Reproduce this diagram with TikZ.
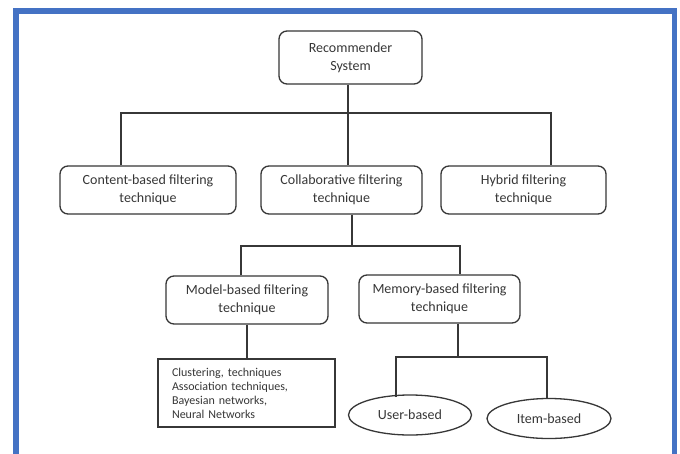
\documentclass[tikz,border=0pt]{standalone}
\usepackage{fontspec}
\setmainfont{Carlito}
\usetikzlibrary{shapes.geometric}
\definecolor{frameblue}{RGB}{68,114,196}
\definecolor{inkgray}{RGB}{55,55,55}

\begin{document}
\begin{tikzpicture}[x=1pt,y=-1pt,
    box/.style={draw=inkgray,line width=1.3pt,rounded corners=8pt,align=center,
        font=\fontsize{14}{18}\selectfont,text=inkgray,inner sep=0pt,minimum height=48pt},
    listbox/.style={draw=inkgray,line width=1.3pt,align=left,text width=149pt,
        font=\fontsize{12}{14}\selectfont,text=inkgray,inner xsep=14pt,inner ysep=0pt,minimum height=68pt},
    oval/.style={draw=inkgray,line width=1.3pt,ellipse,inner sep=0pt,
        font=\fontsize{14}{18}\selectfont,text=inkgray,minimum height=40pt},
    link/.style={draw=inkgray,line width=1.1pt}]
            \useasboundingbox (0,0) rectangle (680,453);
            \fill[white] (0,0) rectangle (680,453);
            \begin{scope}
                \clip (0,0) rectangle (680,453);
                \draw[frameblue,line width=5.5pt] (15.75,470) -- (15.75,11) -- (674.25,11) -- (674.25,470);
            \end{scope}

            % boxes
            \node[box,minimum width=143pt,minimum height=53pt] (rec) at (350.5,57.5) {Recommender\\System};
            \node[box,minimum width=176pt] (cbf) at (148,190) {Content-based filtering\\technique};
            \node[box,minimum width=161pt] (cf) at (341.5,190) {Collaborative filtering\\technique};
            \node[box,minimum width=165pt] (hf) at (523.5,190) {Hybrid filtering\\technique};
            \node[box,minimum width=162pt] (mb) at (247,300) {Model-based filtering\\technique};
            \node[box,minimum width=161pt] (memb) at (439.5,299) {Memory-based filtering\\technique};
            \node[listbox] (algo) at (246.5,393) {Clustering, techniques\\Association techniques,\\Bayesian networks,\\Neural Networks};
            \node[oval,minimum width=123pt] (user) at (410,415) {User-based};
            \node[oval,minimum width=124pt] (item) at (549,418.5) {Item-based};

            % connectors
            \coordinate (top) at (348,113);
            \coordinate (tl) at (121,113);
            \coordinate (tr) at (551,113);
            \draw[link] (top |- rec.south) -- (top);
            \draw[link] (tl |- cbf.north) -- (tl) -- (tr) -- (tr |- hf.north);
            \draw[link] (top) -- (top |- cf.north);

            \coordinate (mid) at (352,246);
            \coordinate (ml) at (241,246);
            \coordinate (mr) at (460,246);
            \draw[link] (mid |- cf.south) -- (mid);
            \draw[link] (ml |- mb.north) -- (ml) -- (mr) -- (mr |- memb.north);

            \coordinate (down) at (247,0);
            \draw[link] (down |- mb.south) -- (down |- algo.north);

            \coordinate (low) at (458,357);
            \coordinate (ll) at (396,357);
            \coordinate (lr) at (547,357);
            \draw[link] (low |- memb.south) -- (low);
            \draw[link] (ll |- 0,397) -- (ll) -- (lr) -- (lr |- item.north);
        \end{tikzpicture}
\end{document}
